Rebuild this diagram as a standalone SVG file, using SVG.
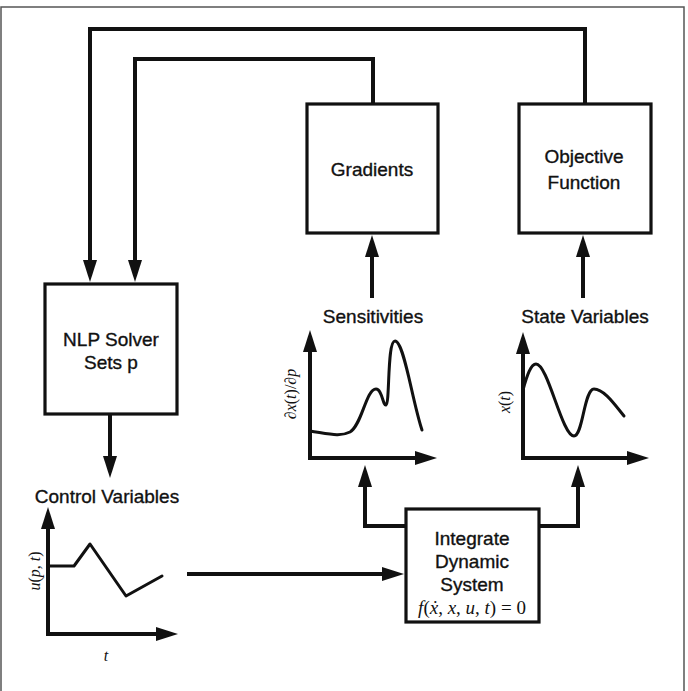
<svg xmlns="http://www.w3.org/2000/svg" width="688" height="691" viewBox="0 0 688 691">
<defs>
<style>
.box{fill:#fff;stroke:#111;stroke-width:3.2}
.conn{fill:none;stroke:#111;stroke-width:4;stroke-linejoin:miter}
.axis{fill:none;stroke:#111;stroke-width:4}
.curve{fill:none;stroke:#111;stroke-width:3;stroke-linejoin:round;stroke-linecap:round}
.lbl{font-family:"Liberation Sans",Arial,sans-serif;font-size:19px;fill:#111;stroke:#111;stroke-width:0.35;text-anchor:middle}
.math{font-family:"Liberation Serif","Times New Roman",serif;font-style:italic;font-size:16px;fill:#111;text-anchor:middle}
.up{font-style:normal}
</style>
<marker id="ah" viewBox="0 0 22 14" refX="12" refY="7" markerWidth="22" markerHeight="14" markerUnits="userSpaceOnUse" orient="auto">
<path d="M0,0 L22,7 L0,14 z" fill="#111"/>
</marker>
</defs>
<rect x="1" y="7" width="683" height="700" fill="none" stroke="#555" stroke-width="1.5"/>
<g id="connectors">
<path class="conn" d="M585,104 V29 H90 V272" marker-end="url(#ah)"/>
<path class="conn" d="M373,104 V59 H135 V272" marker-end="url(#ah)"/>
<path class="conn" d="M110,414 V468" marker-end="url(#ah)"/>
<path class="conn" d="M187,574 H394" marker-end="url(#ah)"/>
<path class="conn" d="M406,526 H365 V475" marker-end="url(#ah)"/>
<path class="conn" d="M539,526 H578 V475" marker-end="url(#ah)"/>
<path class="conn" d="M372,298 V245" marker-end="url(#ah)"/>
<path class="conn" d="M583,298 V245" marker-end="url(#ah)"/>
</g>
<g id="gradients">
<rect class="box" x="307" y="104" width="131" height="129"/>
<text class="lbl" x="372" y="176">Gradients</text>
</g>
<g id="objective">
<rect class="box" x="519" y="104" width="132" height="129"/>
<text class="lbl" x="584" y="163">Objective</text>
<text class="lbl" x="584" y="189">Function</text>
</g>
<g id="nlp">
<rect class="box" x="45" y="284" width="132" height="130"/>
<text class="lbl" x="111" y="346">NLP Solver</text>
<text class="lbl" x="111" y="369">Sets p</text>
</g>
<g id="integrate">
<rect class="box" x="406" y="509" width="133" height="113"/>
<text class="lbl" x="472" y="545">Integrate</text>
<text class="lbl" x="472" y="568">Dynamic</text>
<text class="lbl" x="472" y="591">System</text>
<text class="math" x="472" y="614" style="font-size:19px">f<tspan class="up">(</tspan>ẋ<tspan class="up">, </tspan>x<tspan class="up">, </tspan>u<tspan class="up">, </tspan>t<tspan class="up">) = 0</tspan></text>
</g>
<g id="sensitivities">
<text class="lbl" x="373" y="323">Sensitivities</text>
<path class="axis" d="M310,458 V340" marker-end="url(#ah)"/>
<path class="axis" d="M308,458 H427" marker-end="url(#ah)"/>
<path class="curve" d="M310,431 C330,434 340,437 350,432 C362,425 366,389 376,389 C382,389 383,406 386,405 C390,403 387,341 395,341 C404,341 412,400 422,430"/>
<text class="math" transform="translate(296,394) rotate(-90)">∂x<tspan class="up">(</tspan>t<tspan class="up">)/∂</tspan>p</text>
</g>
<g id="state">
<text class="lbl" x="585" y="323">State Variables</text>
<path class="axis" d="M523,458 V342" marker-end="url(#ah)"/>
<path class="axis" d="M521,458 H639" marker-end="url(#ah)"/>
<path class="curve" d="M523,390 C527,375 531,364 536,364 C548,364 562,436 574,436 C583,436 584,389 594,389 C604,389 615,405 624,416"/>
<text class="math" transform="translate(510,402) rotate(-90)">x<tspan class="up">(</tspan>t<tspan class="up">)</tspan></text>
</g>
<g id="control">
<text class="lbl" x="107" y="503">Control Variables</text>
<path class="axis" d="M48,634 V517" marker-end="url(#ah)"/>
<path class="axis" d="M46,634 H168" marker-end="url(#ah)"/>
<polyline class="curve" points="48,566 74,566 90,544 126,596 162,576"/>
<text class="math" transform="translate(40,571) rotate(-90)">u<tspan class="up">(</tspan>p<tspan class="up">, </tspan>t<tspan class="up">)</tspan></text>
<text class="math" x="106" y="661">t</text>
</g>
</svg>
